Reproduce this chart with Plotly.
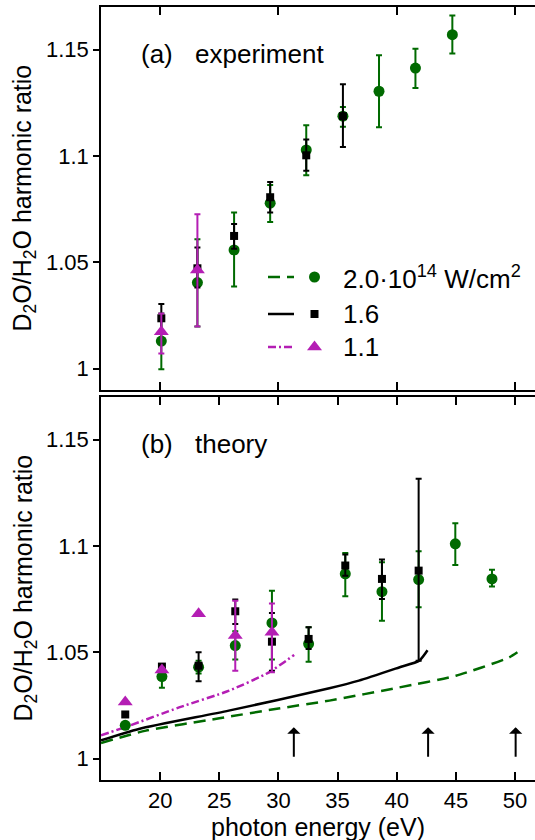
import plotly.graph_objects as go

# ---------------- data ----------------
# (a) experiment
exp_E = [20.1, 23.15, 26.25, 29.3, 32.35, 35.45, 38.5, 41.58, 44.7]
exp_20 = [1.013, 1.0405, 1.0558, 1.0778, 1.1028, 1.1187, 1.1304, 1.1413, 1.157]
exp_20_up = [0.013, 0.0204, 0.0176, 0.0086, 0.0116, 0.0043, 0.0169, 0.0091, 0.009]
exp_20_dn = [0.0133, 0.0207, 0.0172, 0.0089, 0.0119, 0.005, 0.0169, 0.0094, 0.0089]

exp_16_E = [20.1, 23.15, 26.25, 29.3, 32.35, 35.45]
exp_16 = [1.0237, 1.0472, 1.0624, 1.0806, 1.1003, 1.1187]
exp_16_up = [0.0067, 0.0098, 0.0056, 0.0071, 0.0074, 0.015]
exp_16_dn = [0.006, 0.009, 0.006, 0.0072, 0.0073, 0.0145]

exp_11_E = [20.1, 23.15]
exp_11 = [1.0174, 1.0464]
exp_11_up = [0.0086, 0.0262]
exp_11_dn = [0.0102, 0.0266]

# (b) theory points
th_E = [17.05, 20.15, 23.25, 26.35, 29.45, 32.55, 35.65, 38.75, 41.85, 44.95, 48.05]
th_20 = [1.0157, 1.0386, 1.043, 1.0532, 1.0638, 1.054, 1.0869, 1.0785, 1.0842, 1.101, 1.0845]
th_20_up = [0.001, 0.004, 0.003, 0.0067, 0.0152, 0.0078, 0.0098, 0.0138, 0.0133, 0.0097, 0.0043]
th_20_dn = [0.001, 0.0053, 0.003, 0.0066, 0.0172, 0.0084, 0.0106, 0.0136, 0.013, 0.0099, 0.0036]

th_16_E = [17.05, 20.15, 23.25, 26.35, 29.45, 32.55, 35.65, 38.75, 41.85]
th_16 = [1.0208, 1.0433, 1.0437, 1.0693, 1.055, 1.0563, 1.0908, 1.0845, 1.0884]
th_16_up = [0.001, 0.001, 0.0063, 0.0055, 0.0135, 0.0055, 0.0052, 0.0091, 0.0432]
th_16_dn = [0.001, 0.001, 0.0073, 0.006, 0.0136, 0.0047, 0.0048, 0.0094, 0.0423]

th_11_E = [17.05, 20.15, 23.25, 26.35, 29.45]
th_11 = [1.0267, 1.0417, 1.0681, 1.0579, 1.0594]
th_11_up = [0.0, 0.001, 0.0, 0.0164, 0.0136]
th_11_dn = [0.0, 0.001, 0.0, 0.0165, 0.0188]

# (b) theory curves
c20_E = [15, 18.8, 25, 30, 34.3, 40.2, 45, 49.5, 50.2]
c20 = [1.0074, 1.0132, 1.019, 1.0236, 1.0273, 1.0335, 1.039, 1.0476, 1.050]
c16_E = [15, 18.2, 25.8, 34.3, 36.8, 40.2, 41.9, 42.6]
c16 = [1.0086, 1.014, 1.0226, 1.0331, 1.0367, 1.0429, 1.0461, 1.051]
c11_E = [15, 17.38, 21.6, 25.83, 29.2, 31.33]
c11 = [1.011, 1.0155, 1.0241, 1.032, 1.0406, 1.0488]

cutoffs = [31.3, 42.65, 50.05]

y_ticks = [1.0, 1.05, 1.1, 1.15]
y_labels = ["1", "1.05", "1.1", "1.15"]
x_ticks_b = [20, 25, 30, 35, 40, 45, 50]
x_ticks_a = [20, 30, 40, 50]

legend_labels = ["2.0·10<sup>14</sup> W/cm<sup>2</sup>", "1.6", "1.1"]

# ---------------- style ----------------
GREEN = "#006a00"
BLACK = "#000000"
MAG = "#b41eb4"
FONT = "Liberation Sans, Arial, Helvetica, sans-serif"

W, H = 542, 840          # frame's right edge lies just outside the visible 535 px window
ML, MR, MT, MB = 101, 1, 7, 60
PW = W - ML - MR
PH = H - MT - MB
top_dom = [1 - 383 / PH, 1.0]
bot_dom = [0.0, 1 - 390 / PH]
XR = [15, 15 + PW / 11.83]
YR = [0.99, 1.17]

fig = go.Figure()


def pts(x, y, up, dn, color, symbol, size, xa, ya):
    fig.add_trace(go.Scatter(
        x=x, y=y, mode="markers", xaxis=xa, yaxis=ya,
        marker=dict(color=color, symbol=symbol, size=size, line=dict(width=0)),
        error_y=dict(type="data", symmetric=False, array=up, arrayminus=dn,
                     color=color, thickness=2, width=3),
        showlegend=False, hoverinfo="skip"))


def curve(x, y, color, dash, xa, ya):
    fig.add_trace(go.Scatter(
        x=x, y=y, mode="lines", xaxis=xa, yaxis=ya,
        line=dict(color=color, width=2.5, dash=dash, shape="spline", smoothing=0.6),
        showlegend=False, hoverinfo="skip"))


DASH_G = "12px,7px"
DASH_M = "8px,3px,2px,3px"

# panel (a)
pts(exp_E, exp_20, exp_20_up, exp_20_dn, GREEN, "circle", 11, "x", "y")
pts(exp_16_E, exp_16, exp_16_up, exp_16_dn, BLACK, "square", 8, "x", "y")
pts(exp_11_E, exp_11, exp_11_up, exp_11_dn, MAG, "triangle-up", 13, "x", "y")

# panel (b)
curve(c20_E, c20, GREEN, DASH_G, "x2", "y2")
curve(c16_E, c16, BLACK, "solid", "x2", "y2")
curve(c11_E, c11, MAG, DASH_M, "x2", "y2")
pts(th_E, th_20, th_20_up, th_20_dn, GREEN, "circle", 11, "x2", "y2")
pts(th_16_E, th_16, th_16_up, th_16_dn, BLACK, "square", 8, "x2", "y2")
pts(th_11_E, th_11, th_11_up, th_11_dn, MAG, "triangle-up", 13, "x2", "y2")

# legend glyphs (pixel-like overlay axes on panel a)
leg_rows = [270, 307, 340]
leg_colors = [GREEN, BLACK, MAG]
leg_dash = [DASH_G, "solid", DASH_M]
leg_sym = ["circle", "square", "triangle-up"]
leg_size = [11, 8, 13]
for i in range(3):
    fig.add_trace(go.Scatter(
        x=[167, 193], y=[leg_rows[i]] * 2, mode="lines", xaxis="x3", yaxis="y3",
        line=dict(color=leg_colors[i], width=2.5, dash=leg_dash[i]),
        showlegend=False, hoverinfo="skip"))
    fig.add_trace(go.Scatter(
        x=[213.5], y=[leg_rows[i]], mode="markers", xaxis="x3", yaxis="y3",
        marker=dict(color=leg_colors[i], symbol=leg_sym[i], size=leg_size[i]),
        showlegend=False, hoverinfo="skip"))

ann = []
for i, t in enumerate(legend_labels):
    ann.append(dict(x=240, y=leg_rows[i], xref="x3", yref="y3", text=t,
                    showarrow=False, xanchor="left", yanchor="middle",
                    font=dict(size=26, color="black", family=FONT)))

# panel labels
ann += [
    dict(x=(139 - ML) / PW, y=1.148, xref="paper", yref="y", text="(a)", showarrow=False,
         xanchor="left", yanchor="middle", font=dict(size=26, family=FONT, color="black")),
    dict(x=(193 - ML) / PW, y=1.148, xref="paper", yref="y", text="experiment", showarrow=False,
         xanchor="left", yanchor="middle", font=dict(size=26, family=FONT, color="black")),
    dict(x=(139 - ML) / PW, y=1.148, xref="paper", yref="y2", text="(b)", showarrow=False,
         xanchor="left", yanchor="middle", font=dict(size=26, family=FONT, color="black")),
    dict(x=(193 - ML) / PW, y=1.148, xref="paper", yref="y2", text="theory", showarrow=False,
         xanchor="left", yanchor="middle", font=dict(size=26, family=FONT, color="black")),
]

# y titles
ytitle = "D<sub>2</sub>O/H<sub>2</sub>O harmonic ratio"
for dom in (top_dom, bot_dom):
    ann.append(dict(x=(24 - ML) / PW, y=(dom[0] + dom[1]) / 2, xref="paper", yref="paper",
                    text=ytitle, textangle=-90, showarrow=False, xanchor="center",
                    yanchor="middle", font=dict(size=25, family=FONT, color="black")))

# x title
ann.append(dict(x=(318 - ML) / PW, y=-(827 - (H - MB)) / PH, xref="paper", yref="paper",
                text="photon energy (eV)", showarrow=False, xanchor="center", yanchor="middle",
                font=dict(size=25, family=FONT, color="black")))

# cutoff arrows
for c in cutoffs:
    ann.append(dict(x=c, y=1.0148, ax=c, ay=1.0002, xref="x2", yref="y2",
                    axref="x2", ayref="y2", showarrow=True, arrowhead=1, arrowsize=1.1,
                    arrowwidth=2, arrowcolor="black", text=""))

axis_common = dict(showline=True, linecolor="black", linewidth=1.5,
                   showgrid=False, zeroline=False, tickcolor="black", tickwidth=1.5,
                   tickfont=dict(size=22, family=FONT, color="black"))

right_axis = dict(range=YR, tickvals=y_ticks, showticklabels=False, side="right",
                  ticks="inside", ticklen=8, showline=True, linecolor="black", linewidth=1.5,
                  showgrid=False, zeroline=False, tickcolor="black", tickwidth=1.5)

fig.update_layout(
    width=W, height=H,
    margin=dict(l=ML, r=MR, t=MT, b=MB),
    paper_bgcolor="white", plot_bgcolor="white",
    showlegend=False,
    font=dict(family=FONT, color="black"),
    xaxis=dict(domain=[0, 1], anchor="y", range=XR, tickvals=x_ticks_a, showticklabels=False,
               ticks="inside", ticklen=8, mirror="ticks", **axis_common),
    yaxis=dict(domain=top_dom, anchor="x", range=YR, tickvals=y_ticks, ticktext=y_labels,
               ticks="outside", ticklen=6, **axis_common),
    xaxis2=dict(domain=[0, 1], anchor="y2", range=XR, tickvals=x_ticks_b,
                ticks="inside", ticklen=8, mirror="ticks", **axis_common),
    yaxis2=dict(domain=bot_dom, anchor="x2", range=YR, tickvals=y_ticks, ticktext=y_labels,
                ticks="outside", ticklen=6, **axis_common),
    xaxis3=dict(domain=[0, 1], anchor="y3", range=[0, PW], visible=False, overlaying="x"),
    yaxis3=dict(domain=top_dom, anchor="x3", range=[383, 0], visible=False, overlaying="y"),
    yaxis4=dict(domain=top_dom, anchor="x", overlaying="y", **right_axis),
    yaxis5=dict(domain=bot_dom, anchor="x2", overlaying="y2", **right_axis),
    annotations=ann,
)

fig.write_html(
    "out.html",
    config={"displayModeBar": False},
    post_script="document.body.style.margin='0';document.body.style.overflow='hidden';",
)
